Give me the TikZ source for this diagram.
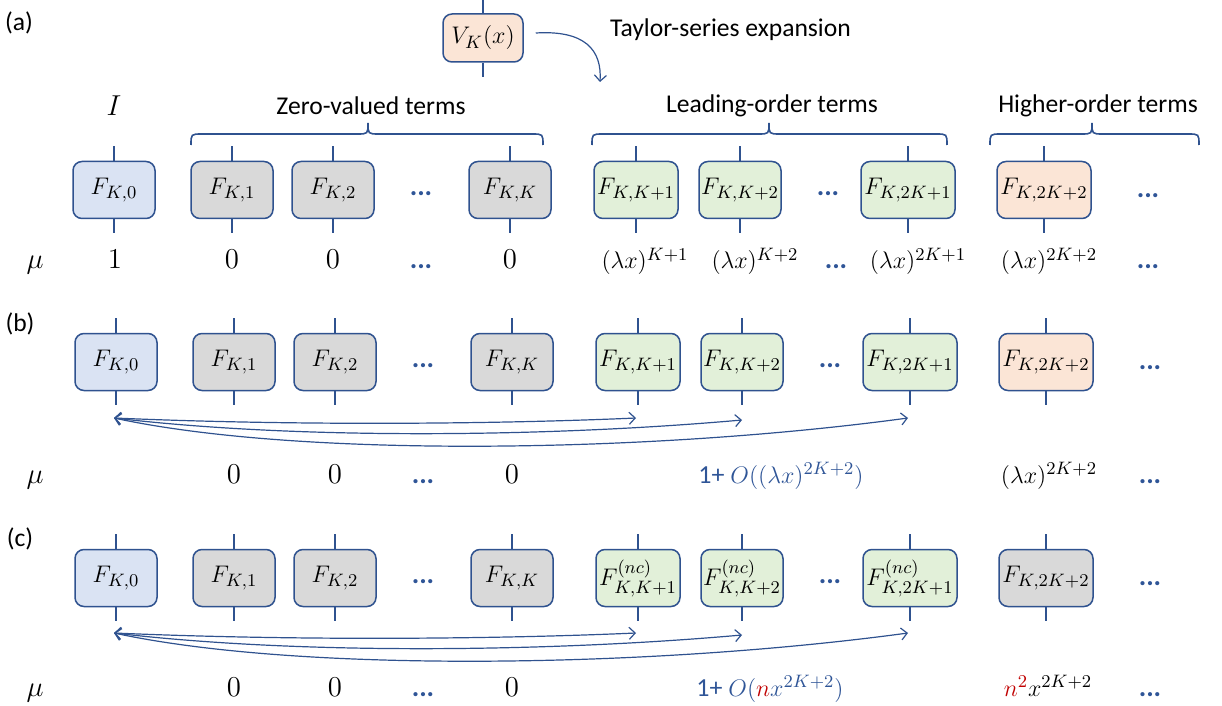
\documentclass[tikz,border=0pt]{standalone}
\usepackage{fontspec}
\setmainfont{Carlito}
\usetikzlibrary{arrows.meta}
\definecolor{bord}{HTML}{2F528F}
\definecolor{fblue}{HTML}{DAE3F3}
\definecolor{fgray}{HTML}{D9D9D9}
\definecolor{fgreen}{HTML}{E2F0D9}
\definecolor{fpeach}{HTML}{FBE5D6}
\definecolor{tblue}{HTML}{2F5597}
\definecolor{tred}{HTML}{C00000}
\tikzset{
  tbox/.style={draw=bord, line width=0.75pt, rounded corners=4.5pt, minimum height=28.5pt, inner sep=0pt, font=\fontsize{12.5}{14}\selectfont},
  tick/.style={draw=bord, line width=0.75pt},
  lbl/.style={font=\fontsize{12.8}{15}\selectfont},
  muv/.style={anchor=base, font=\fontsize{13}{15}\selectfont},
  dig/.style={anchor=base, font=\fontsize{14}{16}\selectfont},
  dotsb/.style={text=tblue, font=\bfseries\fontsize{14}{16}\selectfont},
  dotsm/.style={anchor=base, text=tblue, font=\bfseries\fontsize{14}{16}\selectfont},
  conn/.style={draw=bord, line width=0.6pt, {Straight Barb[length=3pt,width=6pt]}-{Straight Barb[length=3pt,width=6pt]}},
  brc/.style={draw=bord, line width=0.8pt}
}
\newcommand{\tbx}[6]{%
  \node[tbox, fill=#4, minimum width=#5] (#1) at (#2,#3) {#6};
  \draw[tick] (#1.north) -- ++(0,-14.5);
  \draw[tick] (#1.south) -- ++(0,14);
}
\newcommand{\brcdraw}[3]{%
  \draw[brc] (#1,145) .. controls (#1,134) .. (#1+11,134) -- (#3-11,134) .. controls (#3,134) .. (#3,123) .. controls (#3,134) .. (#3+11,134) -- (#2-11,134) .. controls (#2,134) .. (#2,145);
}
\begin{document}
\begin{tikzpicture}[x=0.5pt, y=-0.5pt]
\useasboundingbox (0,0) rectangle (1222,706);

% ---------- (a) ----------
\node[lbl] (la) at (19,23) {(a)};
\node[tbox, fill=fpeach, minimum width=40pt, minimum height=24pt] (vk) at (483,38) {$V_K(x)$};
\draw[tick] (vk.north) -- ++(0,-14);
\draw[tick] (vk.south) -- ++(0,14);
\coordinate (tay) at (600,82);
\draw[draw=bord, line width=0.6pt, -{Straight Barb[length=3pt,width=6pt]}] ([xshift=6pt,yshift=2.5pt]vk.east) .. controls (585,30) and (602,50) .. (tay);
\node[lbl, anchor=west] (taylor) at (603,30) {Taylor-series expansion};

\node[font=\fontsize{14}{16}\selectfont] (ident) at (114,106) {$I$};
\node[lbl] (zlab) at (371,106) {Zero-valued terms};
\node[lbl] (llab) at (772,106) {Leading-order terms};
\node[lbl] (hlab) at (1098,106) {Higher-order terms};
\brcdraw{191}{543}{368}
\brcdraw{592}{947}{769}
\brcdraw{990}{1199}{1092}

\tbx{a0}{114}{190}{fblue}{41pt}{$F_{K,0}$}
\tbx{a1}{232}{190}{fgray}{41pt}{$F_{K,1}$}
\tbx{a2}{333}{190}{fgray}{41pt}{$F_{K,2}$}
\node[dotsb] (ad1) at (421,194) {...};
\tbx{aK}{510}{190}{fgray}{41pt}{$F_{K,K}$}
\tbx{aK1}{636}{190}{fgreen}{42pt}{$F_{K,K+1}$}
\tbx{aK2}{740}{190}{fgreen}{41pt}{$F_{K,K+2}$}
\node[dotsb] (ad2) at (828,194) {...};
\tbx{a2K1}{908}{190}{fgreen}{47pt}{$F_{K,2K+1}$}
\tbx{a2K2}{1044}{190}{fpeach}{47pt}{$F_{K,2K+2}$}
\node[dotsb] (ad3) at (1148,196) {...};

\node[muv, font=\fontsize{14}{16}\selectfont] (mua) at (35,269) {$\mu$};
\node[dig, font=\fontsize{15}{17}\selectfont] (va0) at (115,269) {$1$};
\node[dig] (va1) at (232,269) {$0$};
\node[dig] (va2) at (333,269) {$0$};
\node[dotsm] (vad1) at (421,269) {...};
\node[dig] (vaK) at (510,269) {$0$};
\node[muv] (vaK1) at (645,269) {$(\lambda x)^{K+1}$};
\node[muv] (vaK2) at (755,269) {$(\lambda x)^{K+2}$};
\node[dotsm] (vad2) at (836,269) {...};
\node[muv] (va2K1) at (918,269) {$(\lambda x)^{2K+1}$};
\node[muv] (va2K2) at (1049,269) {$(\lambda x)^{2K+2}$};
\node[dotsm] (vad3) at (1148,269) {...};

% ---------- (b) ----------
\node[lbl] (lb) at (20,324) {(b)};
\tbx{b0}{116}{362}{fblue}{41pt}{$F_{K,0}$}
\tbx{b1}{234}{362}{fgray}{41pt}{$F_{K,1}$}
\tbx{b2}{335}{362}{fgray}{41pt}{$F_{K,2}$}
\node[dotsb] (bd1) at (423,366) {...};
\tbx{bK}{512}{362}{fgray}{41pt}{$F_{K,K}$}
\tbx{bK1}{638}{362}{fgreen}{42pt}{$F_{K,K+1}$}
\tbx{bK2}{742}{362}{fgreen}{41pt}{$F_{K,K+2}$}
\node[dotsb] (bd2) at (830,366) {...};
\tbx{b2K1}{910}{362}{fgreen}{47pt}{$F_{K,2K+1}$}
\tbx{b2K2}{1046}{362}{fpeach}{47pt}{$F_{K,2K+2}$}
\node[dotsb] (bd3) at (1150,368) {...};

\coordinate (bL) at (114,418);
\coordinate (bR1) at (636,418);
\coordinate (bR2) at (742,420);
\coordinate (bR3) at (908,418);
\draw[conn] (bL) .. controls (300,426) and (500,424) .. (bR1);
\draw[conn] (bL) .. controls (300,440) and (550,437) .. (bR2);
\draw[conn] (bL) .. controls (300,458) and (650,453) .. (bR3);

\node[muv, font=\fontsize{14}{16}\selectfont] (mub) at (35,483) {$\mu$};
\node[dig] (vb1) at (234,483) {$0$};
\node[dig] (vb2) at (335,483) {$0$};
\node[dotsm] (vbd1) at (423,483) {...};
\node[dig] (vbK) at (512,483) {$0$};
\node[muv, text=tblue] (vbsum) at (781,483) {1+ $O\big((\lambda x)^{2K+2}\big)$};
\node[muv] (vb2K2) at (1049,483) {$(\lambda x)^{2K+2}$};
\node[dotsm] (vbd3) at (1150,483) {...};

% ---------- (c) ----------
\node[lbl] (lc) at (20,539) {(c)};
\tbx{c0}{116}{578}{fblue}{41pt}{$F_{K,0}$}
\tbx{c1}{234}{578}{fgray}{41pt}{$F_{K,1}$}
\tbx{c2}{335}{578}{fgray}{41pt}{$F_{K,2}$}
\node[dotsb] (cd1) at (423,582) {...};
\tbx{cK}{512}{578}{fgray}{41pt}{$F_{K,K}$}
\tbx{cK1}{638}{578}{fgreen}{42pt}{$F^{(nc)}_{K,K+1}$}
\tbx{cK2}{742}{578}{fgreen}{41pt}{$F^{(nc)}_{K,K+2}$}
\node[dotsb] (cd2) at (830,582) {...};
\tbx{c2K1}{910}{578}{fgreen}{47pt}{$F^{(nc)}_{K,2K+1}$}
\tbx{c2K2}{1046}{578}{fgray}{47pt}{$F_{K,2K+2}$}
\node[dotsb] (cd3) at (1150,584) {...};

\coordinate (cL) at (114,633);
\coordinate (cR1) at (636,633);
\coordinate (cR2) at (742,635);
\coordinate (cR3) at (908,633);
\draw[conn] (cL) .. controls (300,641) and (500,639) .. (cR1);
\draw[conn] (cL) .. controls (300,655) and (550,652) .. (cR2);
\draw[conn] (cL) .. controls (300,673) and (650,668) .. (cR3);

\node[muv, font=\fontsize{14}{16}\selectfont] (muc) at (35,696) {$\mu$};
\node[dig] (vc1) at (234,696) {$0$};
\node[dig] (vc2) at (335,696) {$0$};
\node[dotsm] (vcd1) at (423,696) {...};
\node[dig] (vcK) at (512,696) {$0$};
\node[muv, text=tblue] (vcsum) at (770,696) {1+ $O(\textcolor{tred}{n}x^{2K+2})$};
\node[muv] (vc2K2) at (1048,696) {$\textcolor{tred}{n^2}x^{2K+2}$};
\node[dotsm] (vcd3) at (1150,696) {...};
\end{tikzpicture}
\end{document}
